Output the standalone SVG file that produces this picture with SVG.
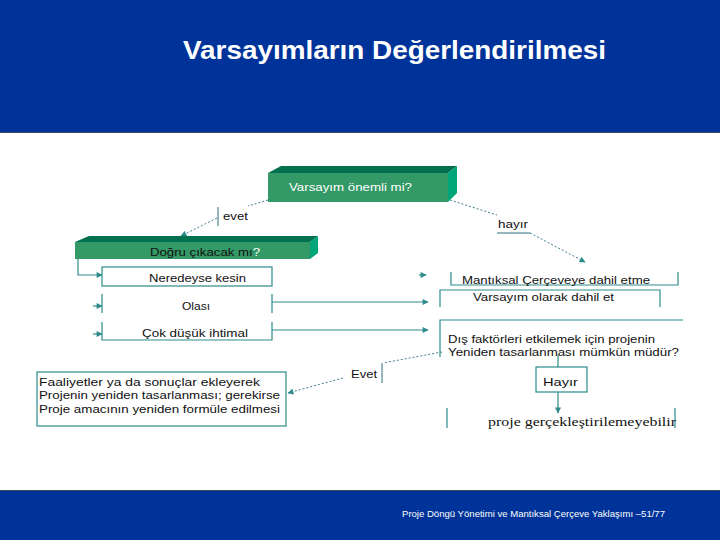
<svg xmlns="http://www.w3.org/2000/svg" width="720" height="540" viewBox="0 0 720 540">
<defs>
<style>
.band{fill:#003399}
.t{font-family:"Liberation Sans",Arial,sans-serif;font-size:11.5px;fill:#111}
.w{fill:#ffffff}
.front{fill:#339966}
.top{fill:#00704f}
.side{fill:#00a67a}
.bx{fill:none;stroke:#2e8b8b;stroke-width:1.2}
.ln{fill:none;stroke:#2e8b8b;stroke-width:1.2}
.dot{fill:none;stroke:#3d7f8f;stroke-width:1;stroke-dasharray:2,2}
.br{fill:none;stroke:#2f6f7f;stroke-width:1}
</style>
<marker id="ah" viewBox="0 0 10 10" refX="9" refY="5" markerWidth="8" markerHeight="6" markerUnits="userSpaceOnUse" orient="auto">
<path d="M0,0 L10,5 L0,10 z" fill="#2e8b8b"/>
</marker>
</defs>
<rect x="0" y="0" width="720" height="540" fill="#ffffff"/>
<rect class="band" x="0" y="0" width="720" height="132"/>
<line x1="0" y1="132.5" x2="720" y2="132.5" stroke="#3a4a60" stroke-width="1"/>
<rect class="band" x="0" y="490" width="720" height="50"/>
<line x1="0" y1="490.5" x2="720" y2="490.5" stroke="#3a4a60" stroke-width="1"/>
<text x="183" y="59" font-family="'Liberation Sans',Arial,sans-serif" font-size="26" font-weight="bold" fill="#ffffff" textLength="423" lengthAdjust="spacingAndGlyphs">Varsayımların Değerlendirilmesi</text>
<text x="402" y="517" font-family="'Liberation Sans',Arial,sans-serif" font-size="8.5" fill="#ffffff" textLength="263" lengthAdjust="spacingAndGlyphs">Proje Döngü Yönetimi ve Mantıksal Çerçeve Yaklaşımı –51/77</text>

<g id="connectors">
<path class="dot" d="M268,200 L248,206"/>
<path class="dot" d="M217,218 L181,236" marker-end="url(#ah)"/>
<path class="br" d="M218,207 V226"/>
<path class="dot" d="M450,200 L497,215"/>
<path class="br" d="M497,233 H530"/>
<path class="dot" d="M530,233 L585,262" marker-end="url(#ah)"/>
<path class="dot" d="M442,352 L383,363"/>
<path class="br" d="M382,363 V383"/>
<path class="dot" d="M343,378 L288,393" marker-end="url(#ah)"/>
<path class="ln" d="M78,259 V275 H102" marker-end="url(#ah)"/>
<path class="ln" d="M93,306 H102" marker-end="url(#ah)"/>
<path class="ln" d="M93,334 H102" marker-end="url(#ah)"/>
<path class="ln" d="M272,302 H428" marker-end="url(#ah)"/>
<path class="ln" d="M272,330 H428" marker-end="url(#ah)"/>
<path class="ln" d="M419,275 H426" marker-end="url(#ah)"/>
<path class="ln" d="M558,355 V367"/>
<path class="ln" d="M558,392 V413" marker-end="url(#ah)"/>
</g>

<g id="n-onemli">
<polygon class="top" points="268,173 281,166 457,166 448,173"/>
<polygon class="side" points="448,173 457,166 457,193 448,202"/>
<rect class="front" x="268" y="173" width="180" height="29"/>
<text class="t w" x="289" y="191" font-size="12" textLength="123" lengthAdjust="spacingAndGlyphs">Varsayım önemli mi?</text>
</g>

<g id="n-dogru">
<polygon class="top" points="75,242 89,236 318,236 310,242"/>
<polygon class="side" points="310,242 318,236 318,253 310,259"/>
<rect class="front" x="75" y="242" width="235" height="17"/>
<text class="t" x="150" y="256" textLength="110" lengthAdjust="spacingAndGlyphs">Doğru çıkacak mı<tspan fill="#ffffff">?</tspan></text>
</g>

<g id="n-neredeyse">
<rect class="bx" x="102" y="267" width="170" height="19"/>
<text class="t" x="149" y="282" textLength="97" lengthAdjust="spacingAndGlyphs">Neredeyse kesin</text>
</g>

<g id="n-olasi">
<path class="bx" d="M102,294 V313 M272,294 V313"/>
<text class="t" x="182" y="310" textLength="28" lengthAdjust="spacingAndGlyphs">Olası</text>
</g>

<g id="n-cok">
<path class="bx" d="M102,322 V340 H272 V322"/>
<text class="t" x="142" y="337" textLength="106" lengthAdjust="spacingAndGlyphs">Çok düşük ihtimal</text>
</g>

<g id="n-mantiksal">
<path class="bx" d="M451,272 V285 H678 V272"/>
<text class="t" x="462" y="284" textLength="188" lengthAdjust="spacingAndGlyphs">Mantıksal Çerçeveye dahil etme</text>
</g>

<g id="n-dahil">
<path class="bx" d="M440,307 V290 H660 V307"/>
<text class="t" x="473" y="301" textLength="141" lengthAdjust="spacingAndGlyphs">Varsayım olarak dahil et</text>
</g>

<g id="n-dis">
<path class="bx" d="M440,357 V320 H683"/>
<text class="t" x="448" y="343" font-size="12.5" textLength="207" lengthAdjust="spacingAndGlyphs">Dış faktörleri etkilemek için projenin</text>
<text class="t" x="448" y="356" font-size="12.5" textLength="231" lengthAdjust="spacingAndGlyphs">Yeniden tasarlanması mümkün müdür?</text>
</g>

<g id="n-hayir">
<rect class="bx" x="536" y="367" width="51" height="25"/>
<text class="t" x="543" y="386" textLength="35" lengthAdjust="spacingAndGlyphs">Hayır</text>
</g>

<g id="n-proje">
<path class="bx" d="M447,408 V428 M675,408 V428"/>
<text x="488" y="426" font-family="'Liberation Serif','Times New Roman',serif" font-size="13" fill="#111" textLength="188" lengthAdjust="spacingAndGlyphs">proje gerçekleştirilemeyebilir</text>
</g>

<g id="n-faaliyet">
<rect class="bx" x="37" y="372" width="249" height="54"/>
<text class="t" x="39" y="386" textLength="221" lengthAdjust="spacingAndGlyphs">Faaliyetler ya da sonuçlar ekleyerek</text>
<text class="t" x="39" y="399" textLength="241" lengthAdjust="spacingAndGlyphs">Projenin yeniden tasarlanması; gerekirse</text>
<text class="t" x="39" y="413" textLength="241" lengthAdjust="spacingAndGlyphs">Proje amacının yeniden formüle edilmesi</text>
</g>

<g id="labels">
<text class="t" x="223" y="220" textLength="25" lengthAdjust="spacingAndGlyphs">evet</text>
<text class="t" x="498" y="228" textLength="30" lengthAdjust="spacingAndGlyphs">hayır</text>
<text class="t" x="351" y="378" textLength="26" lengthAdjust="spacingAndGlyphs">Evet</text>
</g>
</svg>
